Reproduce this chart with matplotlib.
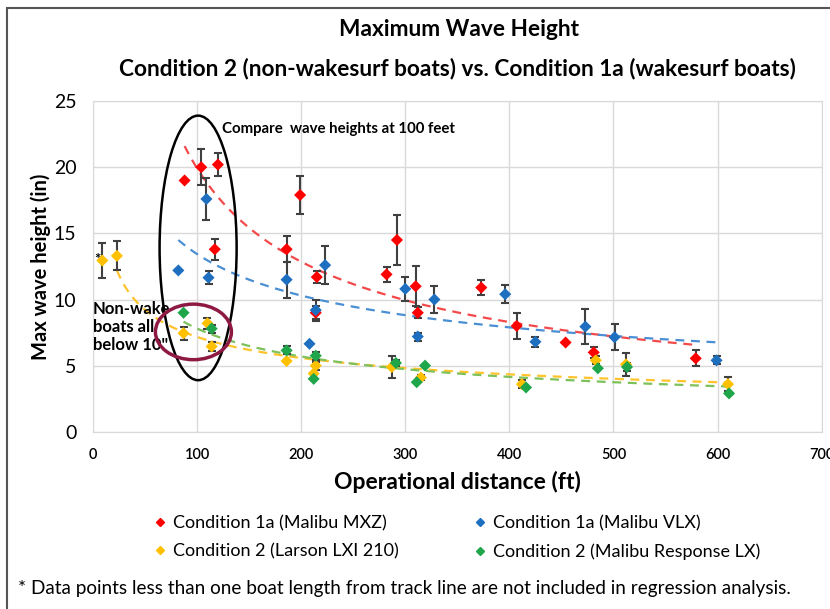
import numpy as np
import matplotlib
matplotlib.use("Agg")
import matplotlib.pyplot as plt
from matplotlib.patches import Ellipse, Rectangle
from matplotlib.lines import Line2D

plt.rcParams['font.family'] = ['Lato', 'DejaVu Sans']

# Condition 1a (Malibu MXZ)
mxz_x = [88, 104, 120, 117, 199, 186, 215, 214, 282, 292, 310, 312, 373, 407, 454, 481, 579]
mxz_y = [19.0, 20.0, 20.2, 13.8, 17.9, 13.8, 11.7, 9.0, 11.9, 14.5, 11.0, 9.0, 10.9, 8.0, 6.75, 6.0, 5.55]
mxz_err = [0, 1.35, 0.85, 0.8, 1.45, 1.0, 0.45, 0.5, 0.55, 1.9, 1.5, 0.4, 0.55, 0.95, 0, 0.4, 0.6]

# Condition 1a (Malibu VLX)
vlx_x = [82, 109, 111, 186, 223, 214, 208, 300, 312, 328, 396, 425, 473, 501, 599]
vlx_y = [12.2, 17.6, 11.65, 11.5, 12.6, 9.2, 6.65, 10.8, 7.2, 10.0, 10.4, 6.8, 7.95, 7.15, 5.4]
vlx_err = [0, 1.6, 0.5, 1.35, 1.45, 0.8, 0, 0.9, 0.3, 1.0, 0.7, 0.4, 1.3, 1.0, 0.3]

# Condition 2 (Larson LXI 210)
lxi_x = [9, 23, 87, 110, 114, 186, 214, 212, 287, 315, 412, 483, 512, 610]
lxi_y = [12.95, 13.3, 7.45, 8.2, 6.45, 5.35, 5.0, 4.4, 4.9, 4.1, 3.6, 5.4, 5.1, 3.6]
lxi_err = [1.3, 1.1, 0.5, 0.4, 0.35, 0, 0.3, 0, 0.8, 0.2, 0.3, 0.3, 0.85, 0.55]

# Condition 2 (Malibu Response LX)
rlx_x = [87, 114, 186, 214, 212, 291, 311, 319, 416, 485, 513, 611]
rlx_y = [9.0, 7.8, 6.15, 5.75, 4.0, 5.2, 3.75, 5.0, 3.35, 4.8, 4.9, 2.9]
rlx_err = [0, 0.3, 0.3, 0.3, 0, 0.2, 0, 0, 0, 0, 0.3, 0]

labels = ['Condition 1a (Malibu MXZ)', 'Condition 1a (Malibu VLX)',
          'Condition 2 (Larson LXI 210)', 'Condition 2 (Malibu Response LX)']
point_colors = ['#FF0000', '#1F6FC0', '#FFC000', '#1FA64A']
line_colors = ['#F4494B', '#4A8FD3', '#FFC32B', '#7CC15A']

series = [(mxz_x, mxz_y, mxz_err), (vlx_x, vlx_y, vlx_err),
          (lxi_x, lxi_y, lxi_err), (rlx_x, rlx_y, rlx_err)]

fig = plt.figure(figsize=(8.3, 6.09), dpi=100)
ax = fig.add_axes([0.112, 0.291, 0.878, 0.543])

handles = []
for (x, y, e), pc, lc, lab in zip(series, point_colors, line_colors, labels):
    x = np.array(x, float); y = np.array(y, float); e = np.array(e, float)
    # power trendline, points closer than one boat length left out
    keep = x >= 20
    b, a = np.polyfit(np.log(x[keep]), np.log(y[keep]), 1)
    xf = np.linspace(x[keep].min(), x[keep].max(), 200)
    ax.plot(xf, np.exp(a) * xf ** b, ls=(0, (4, 3)), color=lc, lw=1.6, zorder=2)
    m = e > 0
    ax.errorbar(x[m], y[m], yerr=e[m], fmt='none', ecolor='#404040',
                elinewidth=1.5, capsize=3, capthick=1.5, zorder=3)
    ax.scatter(x, y, marker='D', s=38, color=pc, edgecolors='none', zorder=4)
    handles.append(Line2D([], [], ls='none', marker='D', ms=4.5, color=pc, label=lab))

ax.set_xlim(0, 700)
ax.set_ylim(0, 25)
ax.set_xticks(range(0, 701, 100))
ax.set_yticks(range(0, 26, 5))
ax.grid(True, color='#D9D9D9', lw=1)
ax.set_axisbelow(True)
for s in ax.spines.values():
    s.set_color('#D9D9D9')
ax.tick_params(length=0)
ax.tick_params(axis='x', labelsize=10.5, pad=12)
ax.tick_params(axis='y', labelsize=14, pad=12)
for t in ax.get_xticklabels():
    t.set_fontweight('semibold')
ax.set_xlabel('Operational distance (ft)', fontsize=16.5, fontweight='bold', labelpad=6)
ax.set_ylabel('Max wave height (in)', fontsize=14.5, fontweight='bold', labelpad=2)

# annotations
ax.add_patch(Ellipse((101, 13.9), 74, 20, fill=False, ec='black', lw=1.8, zorder=5))
ax.add_patch(Ellipse((96.5, 7.55), 73, 4.2, fill=False, ec='#8E1A44', lw=2.5, zorder=5))
ax.text(124, 22.9, 'Compare  wave heights at 100 feet', fontsize=10.8, fontweight='bold',
        va='center', ha='left')
ax.text(0, 7.9, 'Non-wake\nboats all\nbelow 10"', fontsize=12, fontweight='bold',
        va='center', ha='left', linespacing=1.15)
ax.text(4, 13.0, '*', fontsize=11, fontweight='bold', ha='center', va='center')

fig.text(0.553, 0.951, 'Maximum Wave Height', fontsize=16.3, fontweight='bold', ha='center', va='center')
fig.text(0.551, 0.888, 'Condition 2 (non-wakesurf boats) vs. Condition 1a (wakesurf boats)',
         fontsize=16.3, fontweight='bold', ha='center', va='center')

fig.legend(handles=[handles[0], handles[2], handles[1], handles[3]], ncol=2,
           loc='center', bbox_to_anchor=(0.549, 0.117), frameon=False, fontsize=13,
           handletextpad=0.2, columnspacing=4.0, labelspacing=0.65, handlelength=1)
fig.text(0.022, 0.034, '* Data points less than one boat length from track line are not included in regression analysis.',
         fontsize=13.6, ha='left', va='center')

fig.add_artist(Rectangle((7 / 830, -0.05), 1.2, 1.05 - 8 / 609, transform=fig.transFigure,
                         fill=False, ec='#555555', lw=1.5))

fig.savefig('out.png', dpi=100)
